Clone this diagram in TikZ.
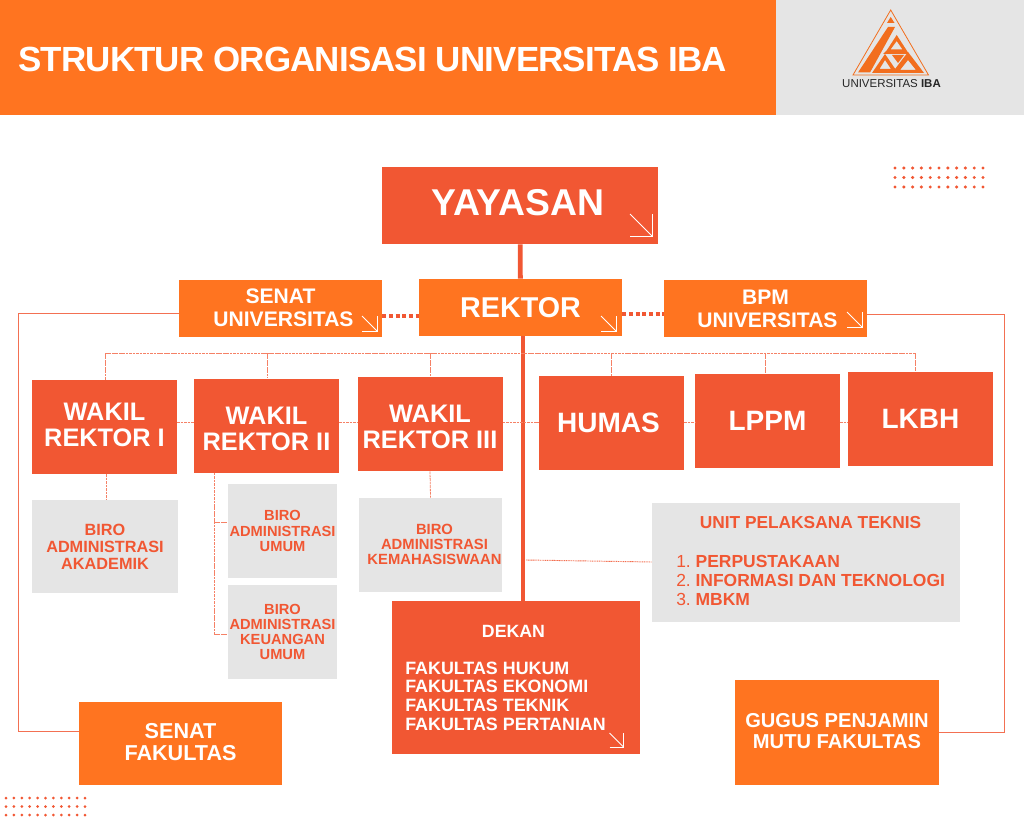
\documentclass[tikz,border=0pt]{standalone}
\usepackage{fontspec}
\setmainfont{Liberation Sans}
\newfontfamily\titlefont[LetterSpace=-2.4]{Liberation Sans}
\usetikzlibrary{positioning}
\definecolor{myorange}{HTML}{FF7420}
\definecolor{myred}{HTML}{F15733}
\definecolor{mygrey}{HTML}{E5E5E5}
\def\u{0.75pt}
\tikzset{
  box/.style={align=center,inner sep=0,font=\bfseries,text=white},
  box orange/.style={box,fill=myorange},
  box red/.style={box,fill=myred},
  box grey/.style={box,fill=mygrey,text=myred},
  box head/.style={box orange,minimum width=203*\u,minimum height=57*\u,
    font=\bfseries\fontsize{15.8}{17.3}\selectfont},
  box unit/.style={box red,minimum width=145*\u,minimum height=94*\u},
  box wakil/.style={box unit,font=\bfseries\fontsize{19}{19.5}\selectfont},
  box large/.style={box unit,font=\bfseries\fontsize{21}{24}\selectfont},
  box biro/.style={box grey,minimum width=109*\u,minimum height=94*\u,
    font=\bfseries\fontsize{11}{11.3}\selectfont},
  connect/.style={myred!85,line width=0.75pt},
  connect main/.style={myred,line width=3.6pt},
  connect dots/.style={myred,line width=2.6pt,dash pattern=on 3pt off 2pt},
  connect dash/.style={myred!75,line width=0.6pt,dash pattern=on 2pt off 0.6pt},
  connect fine/.style={myred!85,line width=0.7pt,dash pattern=on 0.8pt off 0.5pt},
  corner/.style={white,line width=0.6pt},
  logo/.style={fill=myorange!95!black}
}
% small arrow in the lower right of a box
\newcommand{\cornerarrow}[3]{
  \draw[corner] (#1-#3,#2-#3) -- (#1,#2);
  \draw[corner] (#1-#3,#2) -- (#1,#2) -- (#1,#2-#3);
}
% struts that move the text of a box up or down
\newcommand{\up}[1]{\rule[-#1]{0pt}{0pt}}
\newcommand{\down}[1]{\rule{0pt}{\dimexpr0.72em+#1\relax}}
\begin{document}
\begin{tikzpicture}[x=0.75pt,y=-0.75pt]
    \useasboundingbox (0,0) rectangle (1024,820);

    % Header
    \fill[myorange] (0,0) rectangle (776,115);
    \fill[mygrey] (776,0) rectangle (1024,115);
    \node[box,anchor=west,font=\titlefont\bfseries\fontsize{26.2}{28}\selectfont] (title) at (18,59)
      {STRUKTUR ORGANISASI UNIVERSITAS IBA};

    % Logo
    \draw[myorange!95!black,line width=0.6pt] (890.7,10) -- (928.5,75) -- (853,75) -- cycle;
    \fill[logo] (890.7,17) -- (894.5,23) -- (887,23) -- cycle;
    \fill[logo] (888,27) -- (895,27) -- (870,72.5) -- (858,72.5) -- cycle;
    \fill[logo,even odd rule] (896.7,35) -- (909,54) -- (883,54) -- (887,50) -- cycle
      (896.7,41) -- (890.5,49.5) -- (902.5,49.5) -- cycle;
    \fill[logo,even odd rule] (885,54) -- (898,73) -- (872,73) -- cycle
      (885,60) -- (879.5,69) -- (891,69) -- cycle;
    \fill[logo,even odd rule] (908,52) -- (924,73) -- (892,73) -- cycle
      (908,60) -- (900,70) -- (916,70) -- cycle;
    \fill[logo] (892,55) -- (904,55) -- (898,63) -- cycle;
    \node[inner sep=0,text=black!85,font=\fontsize{8.6}{10}\selectfont] (logotext) at (891.5,84)
      {UNIVERSITAS \textbf{IBA}};

    % Dots
    \foreach \i in {0,...,10}
      \foreach \j in {0,1,2} {
        \fill[myred] (895+8.8*\i,168+9.5*\j) circle (1.7);
        \fill[myred] (6+7.9*\i,798+8.5*\j) circle (1.5);
      }

    % Boxes
    \node[box red,minimum width=276*\u,minimum height=77*\u,font=\bfseries\fontsize{28}{30}\selectfont] (yayasan) at (520,205.5) {YAYASAN\hspace*{3pt}\up{4.5pt}};
    \node[box head] (senat) at (280.5,308.5) {SENAT\\\hspace*{4.5pt}UNIVERSITAS\up{1.5pt}};
    \node[box head,font=\bfseries\fontsize{21.5}{24}\selectfont] (rektor) at (520.5,307.5) {REKTOR};
    \node[box head] (bpm) at (765.5,308.5) {BPM\\\hspace*{3pt}UNIVERSITAS};

    \node[box wakil] (wakil1) at (104.5,427) {WAKIL\\REKTOR I\up{3pt}};
    \node[box wakil] (wakil2) at (266.5,425.5) {\down{4.5pt}WAKIL\\REKTOR II};
    \node[box wakil] (wakil3) at (430,424) {\down{4.5pt}WAKIL\\REKTOR III};
    \node[box large] (humas) at (611.5,423) {HUMAS\hspace*{4.5pt}};
    \node[box large] (lppm) at (767.5,420.5) {LPPM};
    \node[box large] (lkbh) at (920.5,418.5) {LKBH};

    \node[box biro,minimum width=146*\u,minimum height=93*\u,font=\bfseries\fontsize{12.2}{12.75}\selectfont] (biro1) at (105,546.5) {BIRO\\ADMINISTRASI\\AKADEMIK};
    \node[box biro] (biro2) at (282.5,531) {BIRO\\ADMINISTRASI\\UMUM};
    \node[box biro] (biro3) at (282.5,632) {BIRO\\ADMINISTRASI\\KEUANGAN\\UMUM};
    \node[box biro,minimum width=143*\u,font=\bfseries\fontsize{11.1}{11.3}\selectfont] (biro4) at (430.5,545) {\hspace*{6pt}BIRO\\\hspace*{6pt}ADMINISTRASI\\\hspace*{6pt}KEMAHASISWAAN\up{1.5pt}};

    \node[box grey,minimum width=308*\u,minimum height=119*\u] (upt) at (806,562.5) {};
    \node[inner sep=0,text=myred,font=\bfseries\fontsize{13}{14.4}\selectfont] (upttitle) at (810.5,522.5) {UNIT PELAKSANA TEKNIS};
    \node[anchor=north west,inner sep=0,text=myred,align=left,font=\bfseries\fontsize{13.1}{14.4}\selectfont] (uptlist) at (676,555)
      {\makebox[14.5pt][l]{\mdseries 1.}PERPUSTAKAAN\\\makebox[14.5pt][l]{\mdseries 2.}INFORMASI DAN TEKNOLOGI\\\makebox[14.5pt][l]{\mdseries 3.}MBKM};

    \node[box red,minimum width=248*\u,minimum height=153*\u] (dekan) at (516,677.5) {};
    \node[inner sep=0,text=white,font=\bfseries\fontsize{13.3}{14.4}\selectfont] (dekantitle) at (513.5,631.5) {DEKAN};
    \node[anchor=north west,inner sep=0,text=white,align=left,font=\bfseries\fontsize{13.4}{14}\selectfont] (dekanlist) at (405,661.5)
      {FAKULTAS HUKUM\\FAKULTAS EKONOMI\\FAKULTAS TEKNIK\\FAKULTAS PERTANIAN};

    \node[box orange,minimum width=203*\u,minimum height=83*\u,font=\bfseries\fontsize{16.2}{16.5}\selectfont] (senatf) at (180.5,743.5) {SENAT\\FAKULTAS\up{3pt}};
    \node[box orange,minimum width=204*\u,minimum height=105*\u,font=\bfseries\fontsize{15.1}{15.5}\selectfont] (gugus) at (837,732.5) {GUGUS PENJAMIN\\MUTU FAKULTAS\up{2.2pt}};

    % Helper points
    \coordinate (trunk) at (523,400);
    \coordinate (bus) at (105,353);
    \coordinate (busend) at (915,353);
    \coordinate (row) at (0,422);
    \coordinate (leftrail) at (18,313);
    \coordinate (rightrail) at (1004,314);
    \coordinate (branch) at (214,522);
    \coordinate (branchend) at (214,634);

    % Main lines
    \draw[connect main] (yayasan) -- (rektor);
    \draw[connect main] (rektor.south -| trunk) -- (dekan.north -| trunk);
    \draw[connect dots] (senat.east |- 0,316) -- (rektor.west |- 0,316);
    \draw[connect dots] (rektor.east |- 0,314) -- (bpm.west |- 0,314);

    % Outer lines
    \draw[connect] (senat.west |- leftrail) -- (leftrail) |- (senatf.west |- 0,731);
    \draw[connect] (bpm.east |- rightrail) -- (rightrail) |- (gugus.east |- 0,732);

    % Dashed bus
    \draw[connect dash] (bus) -- (busend);
    \draw[connect dash] (bus) -- (wakil1.north -| bus);
    \foreach \n/\x in {wakil2/267,wakil3/430,humas/611,lppm/765,lkbh/915}
      \draw[connect dash] (\x,353) -- (\n.north -| \x,353);
    \foreach \a/\b in {wakil1/wakil2,wakil2/wakil3,wakil3/humas,humas/lppm,lppm/lkbh}
      \draw[connect dash] (\a.east |- row) -- (\b.west |- row);

    % Biro lines
    \draw[connect dash] (wakil1.south -| 106,0) -- (biro1.north -| 106,0);
    \draw[connect dash] (wakil3.south) -- (biro4.north);
    \draw[connect dash] (wakil2.south -| branch) -- (branchend);
    \draw[connect dash] (branch) -- (biro2.west |- branch);
    \draw[connect dash] (branchend) -- (biro3.west |- branchend);
    \draw[connect fine] (526,560) -- (upt.west |- 0,562);

    % Small arrows
    \cornerarrow{377}{331}{15}
    \cornerarrow{616}{331}{15}
    \cornerarrow{862}{327}{15}
    \cornerarrow{652}{236}{22}
    \cornerarrow{623.5}{747}{14}
\end{tikzpicture}
\end{document}
